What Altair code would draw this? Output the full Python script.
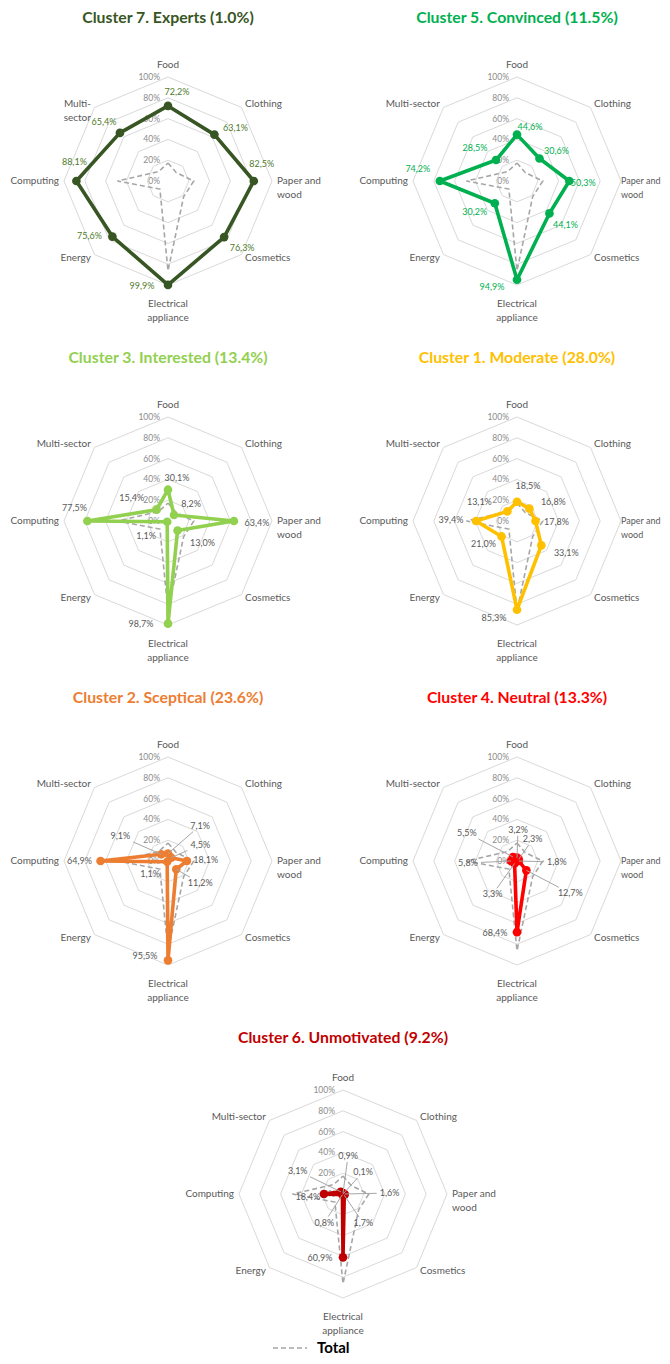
import altair as alt
import pandas as pd

# ---------------- data ----------------
categories = ["Food", "Clothing", "Paper and wood", "Cosmetics",
              "Electrical appliance", "Energy", "Computing", "Multi-sector"]
cat_lines = [["Food"], ["Clothing"], ["Paper and", "wood"], ["Cosmetics"],
             ["Electrical", "appliance"], ["Energy"], ["Computing"], ["Multi-sector"]]
cat_lines_experts = [["Food"], ["Clothing"], ["Paper and", "wood"], ["Cosmetics"],
                     ["Electrical", "appliance"], ["Energy"], ["Computing"], ["Multi-", "sector"]]

titles = ["Cluster 7. Experts (1.0%)", "Cluster 5. Convinced (11.5%)",
          "Cluster 3. Interested (13.4%)", "Cluster 1. Moderate (28.0%)",
          "Cluster 2. Sceptical (23.6%)", "Cluster 4. Neutral (13.3%)",
          "Cluster 6. Unmotivated (9.2%)"]

experts = [72.2, 63.1, 82.5, 76.3, 99.9, 75.6, 88.1, 65.4]
convinced = [44.6, 30.6, 50.3, 44.1, 94.9, 30.2, 74.2, 28.5]
interested = [30.1, 8.2, 63.4, 13.0, 98.7, 1.1, 77.5, 15.4]
moderate = [18.5, 16.8, 17.8, 33.1, 85.3, 21.0, 39.4, 13.1]
sceptical = [7.1, 4.5, 18.1, 11.2, 95.5, 1.1, 64.9, 9.1]
neutral = [3.2, 2.3, 1.8, 12.7, 68.4, 3.3, 5.8, 5.5]
unmotivated = [0.9, 0.1, 1.6, 1.7, 60.9, 0.8, 18.4, 3.1]
total = [17.3, 11.3, 24.8, 21.3, 86.3, 11.0, 48.6, 12.8]

grid_levels = [20, 40, 60, 80, 100]
axis_levels = [0, 20, 40, 60, 80, 100]
axis_labels = ["0%", "20%", "40%", "60%", "80%", "100%"]
legend_label = "Total"

# ---------------- styles / layout ----------------
colors = ["#375623", "#00b050", "#92d050", "#ffc000", "#ed7d31", "#ff0000", "#c00000"]
value_label_colors = ["#4f7a2b", "#00b050", "#595959", "#595959", "#595959", "#595959", "#595959"]
GRID = "#d9d9d9"
TXT = "#595959"
TOTAL_C = "#a6a6a6"
FONT = "Lato"
K = 1.04  # pixels per percentage point

# value-label offsets (px, screen coords) and leader-line flags
offsets = [
    [(9, -14), (21, -7), (8, -17), (18, 11), (-26, 1), (-23, -1), (-2, -19), (-16, -11)],
    [(13, -8), (17, -7), (14, 2), (16, 12), (-25, 7), (-20, 9), (-22, -12), (-21, -12)],
    [(9, -12), (17, -11), (23, 2), (25, 12), (-27, 0), (-21, 14), (-13, -13), (-25, -12)],
    [(11, -16), (24, -7), (21, 1), (25, 8), (-23, 8), (-18, 8), (-25, -1), (-28, -9)],
    [(32, -28), (29, -13), (19, -1), (24, 14), (-23, -4), (-17, 12), (-21, 0), (-41, -18)],
    [(1, -28), (14, -20), (38, 1), (44, 23), (-22, 1), (-22, 31), (-43, 2), (-46, -24)],
    [(5, -37), (20, -22), (45, -1), (19, 28), (-23, 1), (-18, 28), (-16, 3), (-43, -21)],
]
leaders = [
    [0] * 8, [0] * 8, [0] * 8, [0] * 8,
    [1, 1, 0, 1, 0, 0, 0, 1],
    [1, 1, 1, 1, 0, 1, 1, 1],
    [1, 1, 1, 1, 0, 1, 0, 1],
]
cat_radius_px = [116, 109, 109, 109, 123, 109, 109, 109]

series = [experts, convinced, interested, moderate, sceptical, neutral, unmotivated]

XE = "datum.v * sin(datum.idx * PI / 4)"
YE = "datum.v * cos(datum.idx * PI / 4)"


def fmt(v):
    return ("%.1f" % v).replace(".", ",") + "%"


def make_panel(i, w, h, xl, xr, yb, yt, title_up, legend=False, paper_r=109, paper_fs=10):
    xs = alt.Scale(domain=[-xl / K, xr / K])
    ys = alt.Scale(domain=[-yb / K, yt / K])

    def X(f="x"):
        return alt.X(f, type="quantitative", scale=xs, axis=None)

    def Y(f="y"):
        return alt.Y(f, type="quantitative", scale=ys, axis=None)

    vals = series[i]
    color = colors[i]

    grid_df = pd.DataFrame([{"v": lev, "idx": j % 8, "ord": j}
                            for lev in grid_levels for j in range(9)])
    grid = alt.Chart(grid_df).transform_calculate(x=XE, y=YE).mark_line(
        color=GRID, strokeWidth=1).encode(
        x=X(), y=Y(), detail="v:N", order="ord:Q")

    ax_df = pd.DataFrame({"v": axis_levels, "t": axis_labels})
    ax = alt.Chart(ax_df).transform_calculate(x="0", y="datum.v").mark_text(
        align="right", baseline="middle", dx=-8, fontSize=8.5, color="#8c8c8c", font=FONT
    ).encode(x=X(), y=Y(), text="t:N")

    tot_df = pd.DataFrame([{"v": total[j % 8], "idx": j % 8, "ord": j} for j in range(9)])
    tot = alt.Chart(tot_df).transform_calculate(x=XE, y=YE).mark_line(
        color=TOTAL_C, strokeWidth=1.6, strokeDash=[5, 3]).encode(
        x=X(), y=Y(), order="ord:Q")

    s_df = pd.DataFrame([{"v": vals[j % 8], "idx": j % 8, "ord": j} for j in range(9)])
    line = alt.Chart(s_df).transform_calculate(x=XE, y=YE).mark_line(
        color=color, strokeWidth=3.6, strokeJoin="round").encode(
        x=X(), y=Y(), order="ord:Q")

    p_df = pd.DataFrame({"v": vals, "idx": list(range(8)), "cat": categories})
    pts = alt.Chart(p_df).transform_calculate(x=XE, y=YE).mark_circle(
        color=color, size=75, opacity=1).encode(x=X(), y=Y())

    lab_df = pd.DataFrame({
        "v": vals, "idx": list(range(8)), "t": [fmt(v) for v in vals],
        "dx": [o[0] for o in offsets[i]], "dy": [o[1] for o in offsets[i]],
        "lead": leaders[i]})
    lab_calc = alt.Chart(lab_df).transform_calculate(
        x=XE, y=YE,
        lx=XE + " + datum.dx / %f" % K,
        ly=YE + " - datum.dy / %f" % K,
        s="min(1, min(13 / max(abs(datum.dx), 0.01), 6 / max(abs(datum.dy), 0.01)))",
    ).transform_calculate(
        ex=XE + " + datum.dx * (1 - datum.s) / %f" % K,
        ey=YE + " - datum.dy * (1 - datum.s) / %f" % K,
    )
    lead = lab_calc.transform_filter("datum.lead == 1").mark_rule(
        color="#a6a6a6", strokeWidth=1).encode(
        x=X(), y=Y(), x2="ex:Q", y2="ey:Q")
    labs = lab_calc.mark_text(
        fontSize=9, color=value_label_colors[i], font=FONT, baseline="middle").encode(
        x=X("lx"), y=Y("ly"), text="t:N")

    lines = cat_lines_experts if i == 0 else cat_lines
    radii = list(cat_radius_px)
    radii[2] = paper_r
    c_layers = []
    groups = [("center", [0, 4], 10), ("left", [1, 3], 10), ("left", [2], paper_fs),
              ("right", [5, 6, 7], 10)]
    for al, idxs, fs in groups:
        rows = [{"idx": j, "v": radii[j] / K, "t": lines[j]} for j in idxs]
        c_layers.append(
            alt.Chart(pd.DataFrame(rows)).transform_calculate(x=XE, y=YE).mark_text(
                align=al, baseline="middle", fontSize=fs, color=TXT, font=FONT,
                lineHeight=14).encode(x=X(), y=Y(), text="t:N"))

    ttl = alt.Chart(pd.DataFrame({"t": [titles[i]]})).mark_text(
        fontSize=15.8, fontWeight="bold", color=color, font=FONT,
        align="center", baseline="middle").encode(
        x=alt.value(xl), y=alt.value(yt - title_up), text="t:N")

    layers = [grid, ax, tot, line, pts, lead, labs] + c_layers + [ttl]

    if legend:
        lg_df = pd.DataFrame({"t": [legend_label]})
        lg_line = alt.Chart(lg_df).mark_rule(
            color=TOTAL_C, strokeWidth=1.6, strokeDash=[5, 3]).encode(
            x=alt.value(xl - 70), x2=alt.value(xl - 36), y=alt.value(yt + 154))
        lg_txt = alt.Chart(lg_df).mark_text(
            fontSize=15, fontWeight="bold", color="#000000", font=FONT,
            align="left", baseline="middle").encode(
            x=alt.value(xl - 26), y=alt.value(yt + 154), text="t:N")
        layers += [lg_line, lg_txt]

    return alt.layer(*layers).properties(width=w, height=h)


def left(i):
    return make_panel(i, 305, 340, 160, 145, 167, 173, 163)


def right(i):
    return make_panel(i, 305, 340, 160, 145, 167, 173, 163, paper_r=104, paper_fs=9)


panels = [left(0), right(1), left(2), right(3), left(4), right(5)]
# last panel: same width as column 0, its centre placed further right (x = 335 px in panel)
panels.append(make_panel(6, 305, 328, 335, -30, 162, 166, 156, legend=True))

chart = alt.concat(
    *panels, columns=2, spacing={"row": 0, "column": 44},
    bounds="flush", align="none"
).properties(padding=0).configure(
    font=FONT, view=alt.ViewConfig(stroke=None)
)

chart.save("out.html", embed_options={"renderer": "svg", "actions": False})
